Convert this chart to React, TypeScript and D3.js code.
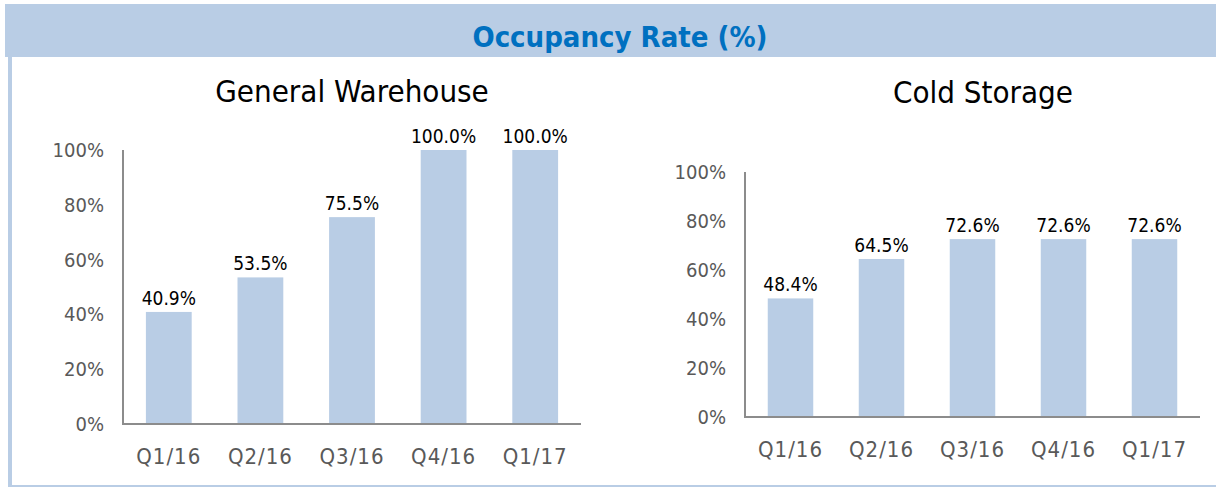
import React, { useEffect, useRef } from "react";
import * as d3 from "d3";

const quarters = ["Q1/16", "Q2/16", "Q3/16", "Q4/16", "Q1/17"];
const warehouseValues = [40.9, 53.5, 75.5, 100.0, 100.0];
const coldValues = [48.4, 64.5, 72.6, 72.6, 72.6];
const yTicks = [0, 20, 40, 60, 80, 100];

const W = 1216;
const H = 488;
const BAR = "#b9cde5";
const FONT = "'DejaVu Sans Condensed', 'DejaVu Sans', sans-serif";

type Panel = {
  title: string;
  values: number[];
  x0: number;
  x1: number;
  yTop: number;
  yBottom: number;
  titleX: number;
  titleY: number;
};

const panels: Panel[] = [
  { title: "General Warehouse", values: warehouseValues, x0: 123, x1: 581, yTop: 150, yBottom: 424, titleX: 352, titleY: 102 },
  { title: "Cold Storage", values: coldValues, x0: 745, x1: 1200, yTop: 172, yBottom: 417, titleX: 983, titleY: 103 },
];

function App() {
  const ref = useRef<SVGSVGElement | null>(null);

  useEffect(() => {
    const svg = d3.select(ref.current);
    svg.selectAll("*").remove();

    // header band and frame
    svg.append("rect").attr("x", 5).attr("y", 4).attr("width", W - 5).attr("height", 53).attr("fill", "#b9cde5");
    svg.append("rect").attr("x", 8).attr("y", 57).attr("width", 4).attr("height", H - 59).attr("fill", "#b9cde5");
    svg.append("rect").attr("x", 8).attr("y", 485).attr("width", W - 8).attr("height", 2).attr("fill", "#b9cde5");

    svg.append("text")
      .attr("x", 620).attr("y", 47)
      .attr("text-anchor", "middle")
      .attr("font-family", FONT)
      .attr("font-weight", "bold")
      .attr("font-size", 29)
      .attr("fill", "#0070c0")
      .text("Occupancy Rate (%)");

    panels.forEach((p) => {
      const g = svg.append("g");
      const x = d3.scaleBand().domain(quarters).range([p.x0, p.x1]).paddingInner(0.5).paddingOuter(0.25);
      const y = d3.scaleLinear().domain([0, 100]).range([p.yBottom, p.yTop]);

      g.append("text")
        .attr("x", p.titleX).attr("y", p.titleY)
        .attr("text-anchor", "middle")
        .attr("font-family", FONT)
        .attr("font-size", 31)
        .attr("fill", "#000")
        .text(p.title);

      g.selectAll(".ytick")
        .data(yTicks)
        .enter()
        .append("text")
        .attr("x", p.x0 - 19)
        .attr("y", (d) => y(d) + 7)
        .attr("text-anchor", "end")
        .attr("font-family", FONT)
        .attr("font-size", 20)
        .attr("fill", "#595959")
        .text((d) => d + "%");

      g.selectAll(".bar")
        .data(p.values)
        .enter()
        .append("rect")
        .attr("x", (d, i) => x(quarters[i]) as number)
        .attr("y", (d) => y(d))
        .attr("width", x.bandwidth())
        .attr("height", (d) => p.yBottom - y(d))
        .attr("fill", BAR);

      g.selectAll(".val")
        .data(p.values)
        .enter()
        .append("text")
        .attr("x", (d, i) => (x(quarters[i]) as number) + x.bandwidth() / 2)
        .attr("y", (d) => y(d) - 7)
        .attr("text-anchor", "middle")
        .attr("font-family", FONT)
        .attr("font-size", 19)
        .attr("fill", "#000")
        .text((d) => d.toFixed(1) + "%");

      g.append("path")
        .attr("d", `M${p.x0},${p.yTop}V${p.yBottom}H${p.x1}`)
        .attr("fill", "none")
        .attr("stroke", "#8c8c8c")
        .attr("stroke-width", 2);

      g.selectAll(".xlab")
        .data(quarters)
        .enter()
        .append("text")
        .attr("x", (d) => (x(d) as number) + x.bandwidth() / 2)
        .attr("y", p.yBottom + 40)
        .attr("text-anchor", "middle")
        .attr("font-family", FONT)
        .attr("font-size", 22)
        .attr("letter-spacing", 1)
        .attr("fill", "#595959")
        .text((d) => d);
    });
  }, []);

  return (
    <div style={{ position: "absolute", left: 0, top: 0 }}>
      <svg ref={ref} width={W} height={H} style={{ display: "block", background: "#fff" }} />
    </div>
  );
}

export default App;
